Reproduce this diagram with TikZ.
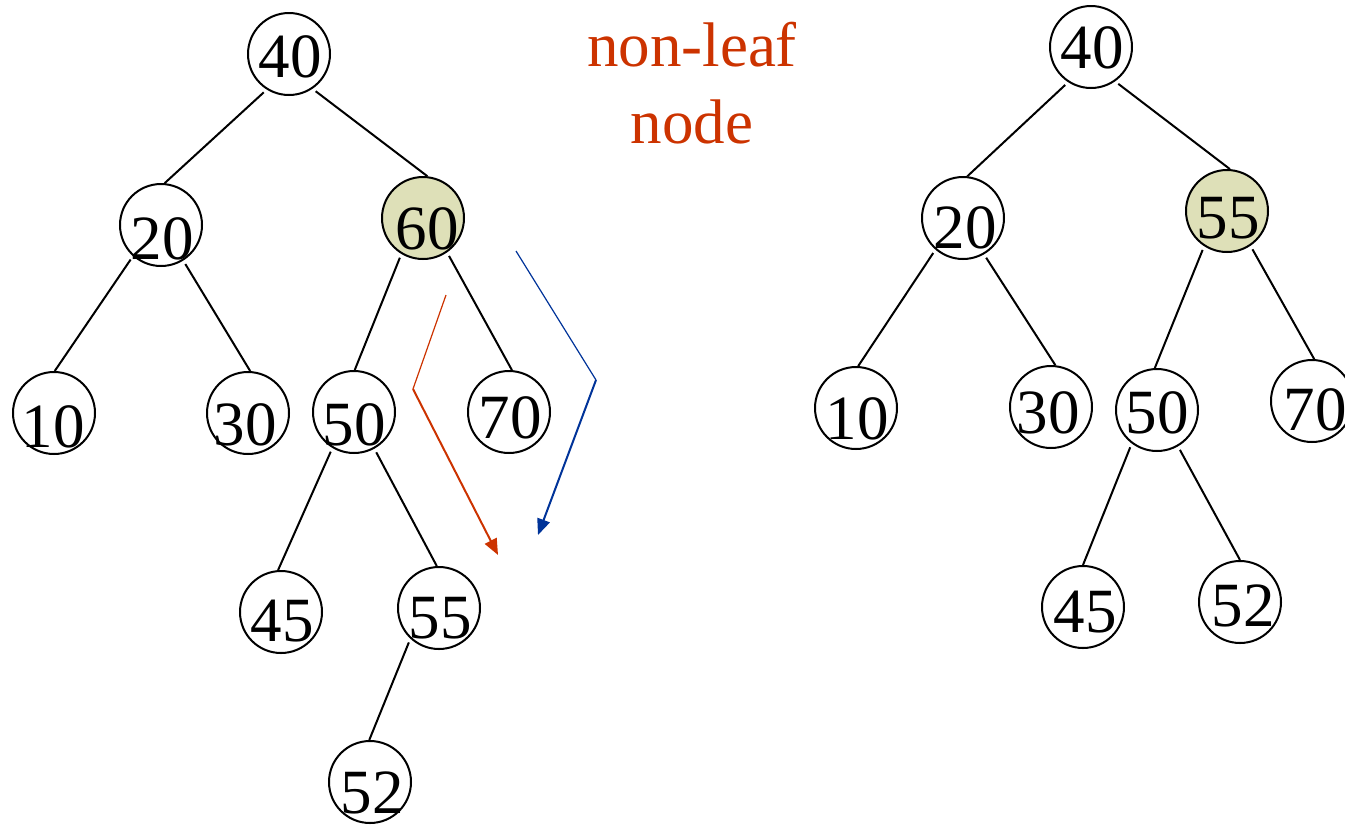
\documentclass[tikz,border=0pt]{standalone}
\usepackage{fontspec}
\setmainfont{Liberation Serif}
\usetikzlibrary{arrows.meta}
\definecolor{hilite}{RGB}{222,224,184}
\definecolor{redc}{RGB}{204,51,0}
\definecolor{bluec}{RGB}{0,51,153}
\tikzset{
  tn/.style={circle,draw,line width=1pt,minimum size=41pt,inner sep=0pt},
  hl/.style={tn,fill=hilite},
  lbl/.style={font=\fontsize{31.5}{36}\selectfont,inner sep=0pt},
  edge/.style={line width=1pt,shorten <=2pt},
  thinarr/.style={line width=0.6pt},
  headarr/.style={line width=1pt,-{Triangle[length=8pt,width=6.5pt]}},
}
\begin{document}
\begin{tikzpicture}[x=0.5pt,y=-0.5pt]
\useasboundingbox (0,0) rectangle (1345,826);
% left tree
\node[tn,label={[lbl,xshift=0.5pt,yshift=-1.5pt]center:40}] (a40) at (289,54) {};
\node[tn,label={[lbl,xshift=0.5pt,yshift=-7pt]center:20}] (a20) at (161,225) {};
\node[hl,label={[lbl,xshift=2pt,yshift=-5.5pt]center:60}] (a60) at (423,218) {};
\node[tn,label={[lbl,xshift=-0.5pt,yshift=-7pt]center:10}] (a10) at (54,413) {};
\node[tn,label={[lbl,xshift=-1.5pt,yshift=-6pt]center:30}] (a30) at (248,413) {};
\node[tn,label={[lbl,xshift=0pt,yshift=-6.5pt]center:50}] (a50) at (354,412) {};
\node[tn,label={[lbl,xshift=0.5pt,yshift=-3pt]center:70}] (a70) at (509,412) {};
\node[tn,label={[lbl,xshift=0.5pt,yshift=-4.5pt]center:45}] (a45) at (281,612) {};
\node[tn,label={[lbl,xshift=0.5pt,yshift=-5pt]center:55}] (a55) at (439,608) {};
\node[tn,label={[lbl,xshift=1pt,yshift=-5.5pt]center:52}] (a52) at (370,782) {};
\draw[edge] (a40.238) -- (a20.85);
\draw[edge] (a40.304) -- (a60.84);
\draw[edge] (a20.228) -- (a10.89);
\draw[edge] (a20.302) -- (a30.87);
\draw[edge] (a60.239) -- (a50.89);
\draw[edge] (a60.305) -- (a70.86);
\draw[edge] (a50.239) -- (a45.94);
\draw[edge] (a50.299) -- (a55.93);
\draw[edge] (a55.227) -- (a52.91);
% right tree
\node[tn,label={[lbl,xshift=0.5pt,yshift=-0.5pt]center:40}] (b40) at (1091,47) {};
\node[tn,label={[lbl,xshift=1pt,yshift=-5pt]center:20}] (b20) at (963,218) {};
\node[hl,label={[lbl,xshift=0.5pt,yshift=-3.5pt]center:55}] (b55) at (1227,211) {};
\node[tn,label={[lbl,xshift=0.5pt,yshift=-5.5pt]center:10}] (b10) at (856,408) {};
\node[tn,label={[lbl,xshift=-1.5pt,yshift=-3pt]center:30}] (b30) at (1051,407) {};
\node[tn,label={[lbl,xshift=0pt,yshift=-1.5pt]center:50}] (b50) at (1157,410) {};
\node[tn,label={[lbl,xshift=1.5pt,yshift=-4.5pt]center:70}] (b70) at (1312,401) {};
\node[tn,label={[lbl,xshift=1pt,yshift=-2.5pt]center:45}] (b45) at (1083,607) {};
\node[tn,label={[lbl,xshift=1.5pt,yshift=-2pt]center:52}] (b52) at (1240,602) {};
\draw[edge] (b40.237) -- (b20.84);
\draw[edge] (b40.305) -- (b55.86);
\draw[edge] (b20.229) -- (b10.87);
\draw[edge] (b20.300) -- (b30.84);
\draw[edge] (b55.237) -- (b50.93);
\draw[edge] (b55.304) -- (b70.87);
\draw[edge] (b50.233) -- (b45.90);
\draw[edge] (b50.300) -- (b52.90);
% label
\node[lbl,text=redc,align=center,anchor=north] (note) at (692,22) {non-leaf\\[2.5pt]node};
% arrows
\coordinate (r0) at (446,295);
\coordinate (r1) at (413,389);
\coordinate (r2) at (498,555);
\coordinate (u0) at (516,251);
\coordinate (u1) at (596,380);
\coordinate (u2) at (538,535);
\draw[redc,thinarr] (r0) -- (r1);
\draw[redc,headarr] (r1) -- (r2);
\draw[bluec,thinarr] (u0) -- (u1);
\draw[bluec,headarr] (u1) -- (u2);
\end{tikzpicture}
\end{document}
